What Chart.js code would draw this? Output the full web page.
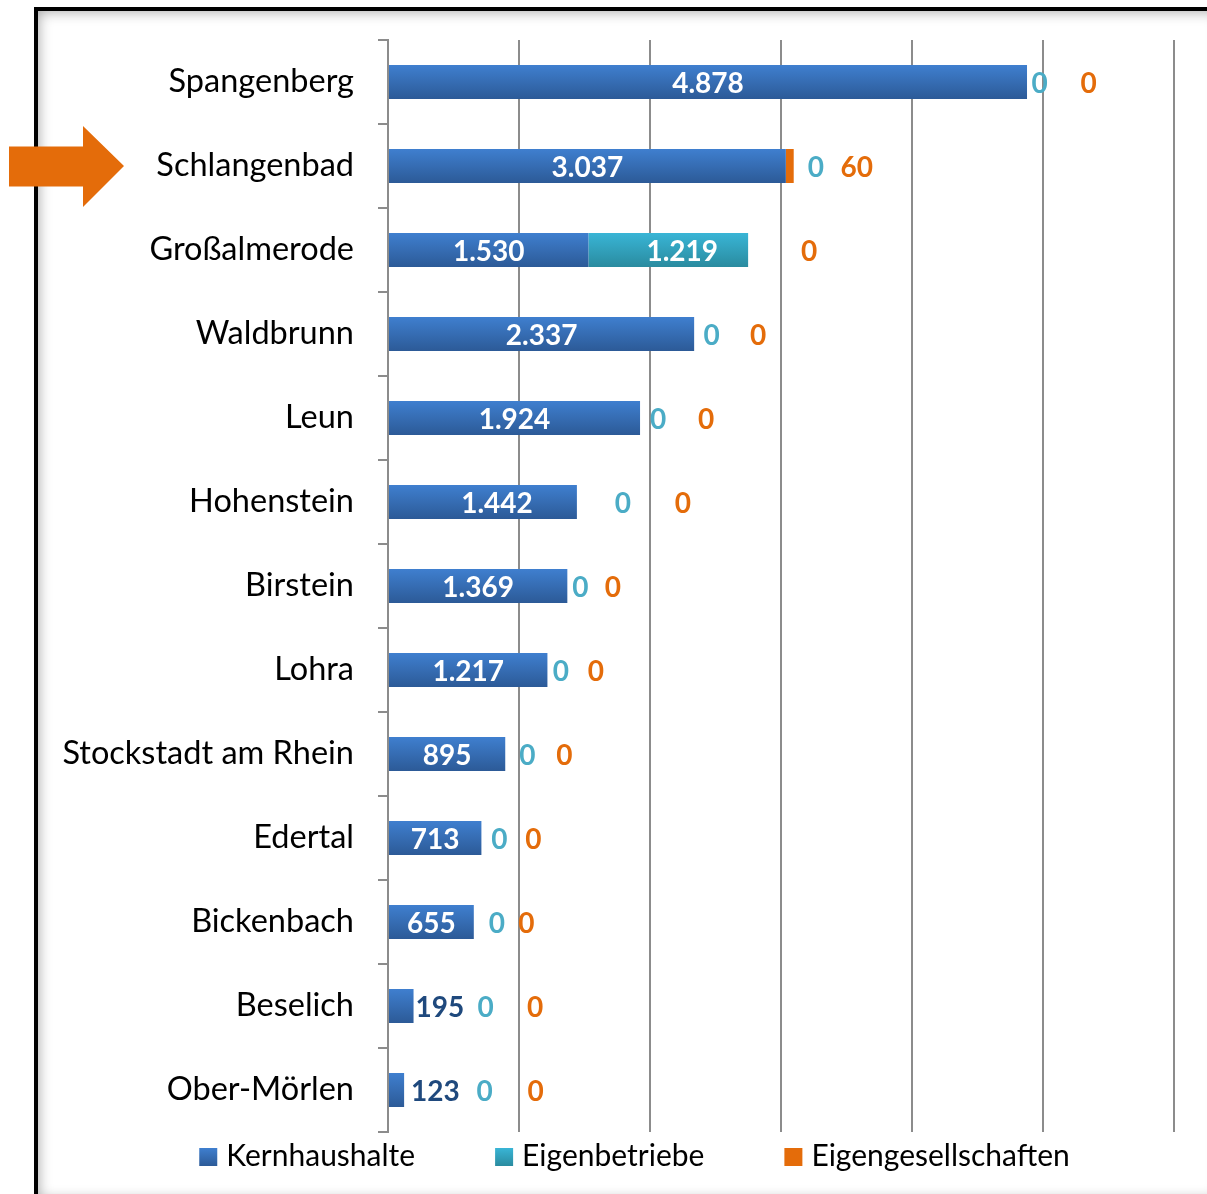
<!DOCTYPE html>
<html lang="de">
<head>
<meta charset="utf-8">
<title>Kernhaushalte, Eigenbetriebe und Eigengesellschaften</title>
<script src="https://cdn.jsdelivr.net/npm/chart.js@4/dist/chart.umd.min.js"></script>
<style>
  html, body { margin: 0; padding: 0; background: #ffffff; overflow: hidden; }
  #frame {
    position: absolute; left: 34px; top: 7px; width: 1190px; height: 1197px;
    border: 4px solid #000; box-sizing: border-box;
    box-shadow: inset 0 0 14px rgba(0,0,0,0.38);
    background: #fff;
  }
  #wrap { position: absolute; left: 0; top: 0; width: 1207px; height: 1194px; }
</style>
</head>
<body>
<div id="frame"></div>
<div id="wrap"><canvas id="chart" width="1207" height="1194"></canvas></div>
<script>
// Gemeinden (top to bottom)
const categories = [
  'Spangenberg', 'Schlangenbad', 'Großalmerode', 'Waldbrunn', 'Leun', 'Hohenstein',
  'Birstein', 'Lohra', 'Stockstadt am Rhein', 'Edertal', 'Bickenbach', 'Beselich', 'Ober-Mörlen'
];
// Werte je Bereich
const kernhaushalte       = [4878, 3037, 1530, 2337, 1924, 1442, 1369, 1217, 895, 713, 655, 195, 123];
const eigenbetriebe       = [0, 0, 1219, 0, 0, 0, 0, 0, 0, 0, 0, 0, 0];
const eigengesellschaften = [0, 60, 0, 0, 0, 0, 0, 0, 0, 0, 0, 0, 0];
const seriesNames = ['Kernhaushalte', 'Eigenbetriebe', 'Eigengesellschaften'];
const highlighted = 'Schlangenbad';

// horizontal label nudges (px) for the value labels
const labelNudgeEB = [12.5, 30, 14, 17.5, 18, 46, 13, 13.5, 22, 18, 23, 72, 80.5];
const labelNudgeEG = [61.5, 63, 61, 64, 66, 106, 45.5, 48.5, 59, 52, 52.5, 121.5, 131.5];
const labelNudgeKH = [0, 0, 0, 0, 0, 14, 0, 0, 0, 0, 0, 2, 7];

const FONT = 'Lato, "Open Sans", sans-serif';
const GRID = '#8c8c8c';
const palette = {
  kh: ['#3f7fcf', '#2c5a97'],
  eb: ['#39b5d6', '#2a8b9f'],
  eg: ['#e46c0a', '#e46c0a']
};
const labelColors = ['#ffffff', '#4bacc6', '#e46c0a'];
const outsideKHColor = '#1f497d';

function fmt(v) {
  return String(v).replace(/\B(?=(\d{3})+(?!\d))/g, '.');
}

function vGradient(ctx, y0, y1, pair) {
  const g = ctx.createLinearGradient(0, y0, 0, y1);
  g.addColorStop(0, pair[0]);
  g.addColorStop(1, pair[1]);
  return g;
}

function barFill(pair) {
  return function (c) {
    const chart = c.chart;
    if (!chart.chartArea || c.dataIndex === undefined) return pair[0];
    const el = c.element;
    if (el && el.height) {
      return vGradient(chart.ctx, el.y - el.height / 2, el.y + el.height / 2, pair);
    }
    const y = chart.scales.y.getPixelForValue(c.dataIndex);
    return vGradient(chart.ctx, y - 17, y + 17, pair);
  };
}

// value labels drawn next to / inside the bars
const valueLabels = {
  id: 'valueLabels',
  afterDatasetsDraw(chart) {
    const ctx = chart.ctx;
    ctx.save();
    ctx.font = 'bold 28px ' + FONT;
    ctx.textBaseline = 'middle';
    const nudges = [labelNudgeKH, labelNudgeEB, labelNudgeEG];
    chart.data.datasets.forEach((ds, di) => {
      const meta = chart.getDatasetMeta(di);
      meta.data.forEach((bar, i) => {
        const v = ds.data[i];
        const txt = fmt(v);
        const w = ctx.measureText(txt).width;
        const left = bar.base, right = bar.x;
        const y = bar.y + 2;
        if (di === 0) {
          if (right - left > w + 12) {
            ctx.fillStyle = labelColors[0];
            ctx.textAlign = 'center';
            ctx.fillText(txt, (left + right) / 2 + nudges[0][i], y);
          } else {
            ctx.fillStyle = outsideKHColor;
            ctx.textAlign = 'left';
            ctx.fillText(txt, right + nudges[0][i], y);
          }
        } else if (di === 1 && v > 0) {
          ctx.fillStyle = '#ffffff';
          ctx.textAlign = 'center';
          ctx.fillText(txt, (left + right) / 2 + nudges[1][i], y);
        } else {
          ctx.fillStyle = labelColors[di];
          ctx.textAlign = 'center';
          ctx.fillText(txt, right + nudges[di][i], y);
        }
      });
    });
    ctx.restore();
  }
};

// legend row under the plot
const bottomLegend = {
  id: 'bottomLegend',
  afterDraw(chart) {
    const ctx = chart.ctx;
    ctx.save();
    ctx.font = '30px ' + FONT;
    ctx.textBaseline = 'alphabetic';
    const box = 18, gapText = 9, gapItem = 80;
    const pairs = [palette.kh, palette.eb, palette.eg];
    const widths = seriesNames.map(n => ctx.measureText(n).width);
    const total = widths.reduce((a, w) => a + box + gapText + w, 0) + gapItem * (seriesNames.length - 1);
    let x = 634.5 - total / 2;
    const boxTop = 1148;
    seriesNames.forEach((n, k) => {
      ctx.fillStyle = vGradient(ctx, boxTop, boxTop + box, pairs[k]);
      ctx.fillRect(x, boxTop, box, box);
      ctx.fillStyle = '#000';
      ctx.textAlign = 'left';
      ctx.fillText(n, x + box + gapText, 1166);
      x += box + gapText + widths[k] + gapItem;
    });
    ctx.restore();
  }
};

// arrow pointing at the highlighted municipality
const pointerArrow = {
  id: 'pointerArrow',
  afterDraw(chart) {
    const idx = categories.indexOf(highlighted);
    if (idx < 0) return;
    const yc = chart.scales.y.getPixelForValue(idx);
    const ctx = chart.ctx;
    ctx.save();
    ctx.fillStyle = '#e46c0a';
    ctx.beginPath();
    ctx.moveTo(9, yc - 19.5);
    ctx.lineTo(83, yc - 19.5);
    ctx.lineTo(83, yc - 40);
    ctx.lineTo(124, yc);
    ctx.lineTo(83, yc + 41);
    ctx.lineTo(83, yc + 20.5);
    ctx.lineTo(9, yc + 20.5);
    ctx.closePath();
    ctx.fill();
    ctx.restore();
  }
};

const barOpts = { barPercentage: 0.405, categoryPercentage: 1, borderWidth: 0, borderSkipped: false };

new Chart(document.getElementById('chart'), {
  type: 'bar',
  data: {
    labels: categories,
    datasets: [
      Object.assign({ label: seriesNames[0], data: kernhaushalte, backgroundColor: barFill(palette.kh) }, barOpts),
      Object.assign({ label: seriesNames[1], data: eigenbetriebe, backgroundColor: barFill(palette.eb) }, barOpts),
      Object.assign({ label: seriesNames[2], data: eigengesellschaften, backgroundColor: barFill(palette.eg) }, barOpts)
    ]
  },
  options: {
    indexAxis: 'y',
    responsive: false,
    animation: false,
    events: [],
    layout: { padding: { left: 0, top: 40, right: 33, bottom: 62 } },
    plugins: { legend: { display: false }, tooltip: { enabled: false } },
    scales: {
      x: {
        stacked: true,
        min: 0, max: 6000,
        ticks: { display: false, stepSize: 1000 },
        grid: { color: GRID, lineWidth: 2, drawTicks: false },
        border: { display: false }
      },
      y: {
        stacked: true,
        afterFit(scale) {
          scale.width = 388;
          scale.paddingTop = 0;
          scale.paddingBottom = 0;
        },
        ticks: { color: '#000', font: { family: FONT, size: 32.5 }, padding: 24 },
        grid: { offset: true, drawOnChartArea: false, color: GRID, lineWidth: 2, tickLength: 10 },
        border: { display: true, color: GRID, width: 2 }
      }
    }
  },
  plugins: [valueLabels, bottomLegend, pointerArrow]
});
</script>
</body>
</html>
